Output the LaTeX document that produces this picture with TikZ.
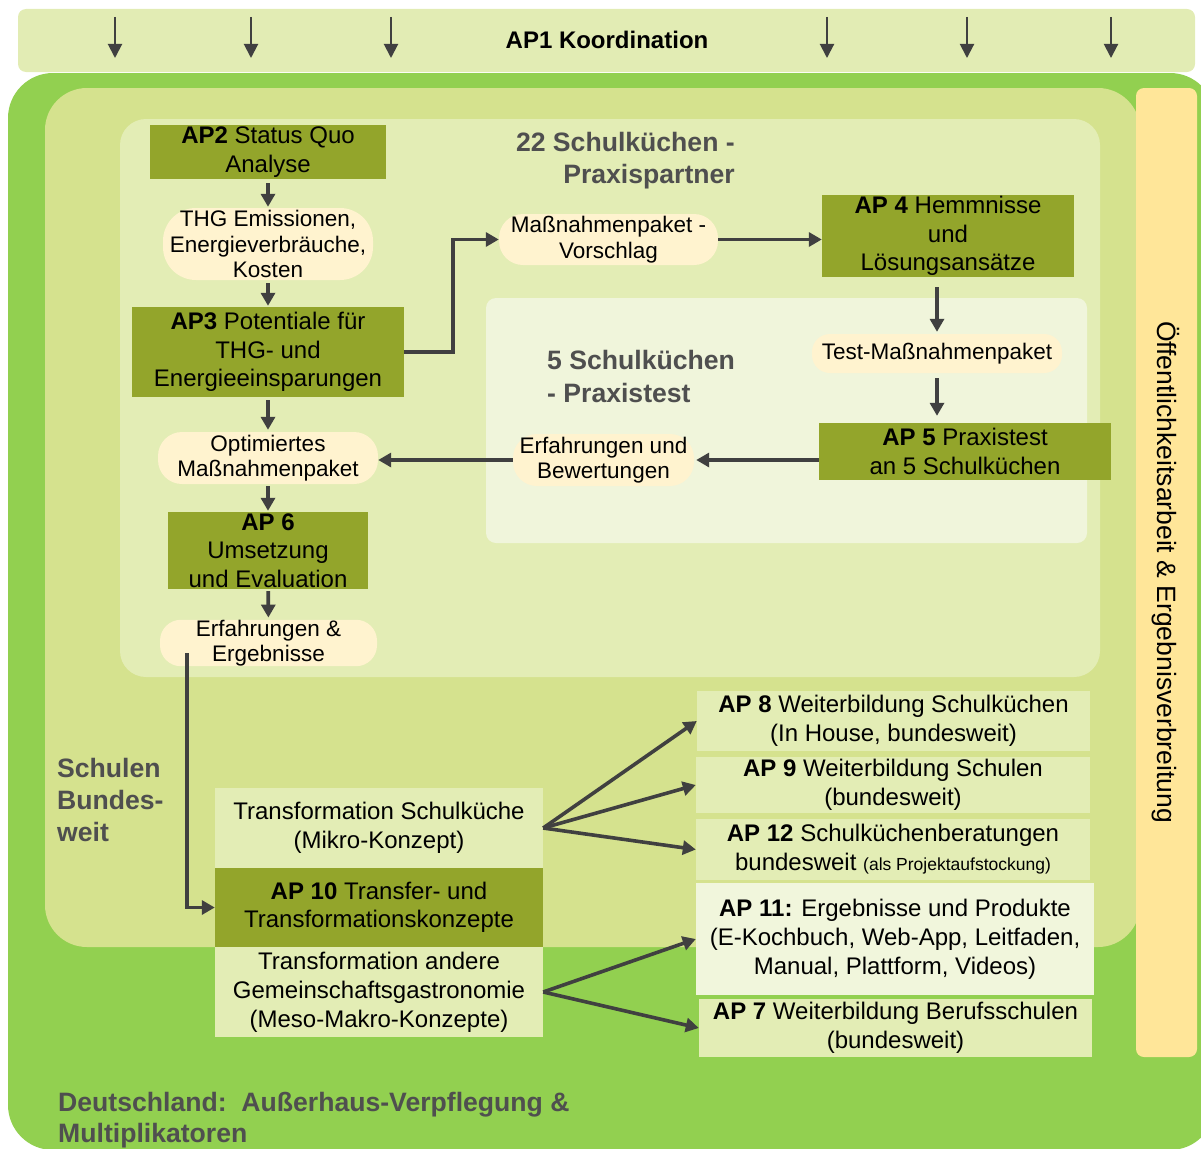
\documentclass[tikz,border=0pt]{standalone}
\usepackage{fontspec}
\setmainfont{Liberation Sans}
\usetikzlibrary{arrows.meta}
\definecolor{barc}{HTML}{E2ECB4}
\definecolor{greenc}{HTML}{92D050}
\definecolor{midc}{HTML}{D5E28E}
\definecolor{innerc}{HTML}{E3EDB5}
\definecolor{innermostc}{HTML}{F0F5DB}
\definecolor{apdark}{HTML}{93A52B}
\definecolor{pillc}{HTML}{FFF3CF}
\definecolor{yellowc}{HTML}{FFE699}
\definecolor{liteb}{HTML}{E3EDB5}
\definecolor{litest}{HTML}{F1F6DC}
\definecolor{headc}{HTML}{4F4F4F}
\definecolor{arrc}{HTML}{404040}
\begin{document}
\begin{tikzpicture}[x=1pt,y=-1pt,
  apbox/.style={fill=apdark, inner sep=0pt, align=center, text=black, font=\fontsize{24}{28.5}\selectfont},
  litebox/.style={fill=liteb, inner sep=0pt, align=center, text=black, font=\fontsize{24}{29}\selectfont},
  pill/.style={fill=pillc, inner sep=0pt, align=center, text=black, font=\fontsize{22.5}{25.5}\selectfont},
  heading/.style={text=headc, inner sep=0pt, font=\bfseries\fontsize{26.6}{32}\selectfont},
  arr/.style={draw=arrc, line width=3.6pt, -{Triangle[length=13pt,width=14pt]}},
  toparr/.style={draw=arrc, line width=2pt, -{Triangle[length=14pt,width=14pt]}}]
\useasboundingbox (0,0) rectangle (1201,1148);
% backgrounds
\fill[greenc, rounded corners=45pt] (8,73) rectangle (1215,1150);
\fill[midc, rounded corners=42pt] (45,88) rectangle (1140,947);
\fill[innerc, rounded corners=26pt] (120,119) rectangle (1100,677);
\fill[innermostc, rounded corners=10pt] (486,298) rectangle (1087,543);
\fill[yellowc, rounded corners=8pt] (1136,88) rectangle (1197,1057);
\node[rotate=-90, inner sep=0pt, font=\fontsize{26.5}{30}\selectfont] (oeff) at (1166,572) {Öffentlichkeitsarbeit \& Ergebnisverbreitung};
% top bar
\fill[barc, rounded corners=8pt] (18,9) rectangle (1195,72);
\node[inner sep=0pt, font=\bfseries\fontsize{24}{28}\selectfont] (ap1) at (607,40) {AP1 Koordination};
\foreach \x [count=\i] in {115,251,391,827,967,1111}{
  \coordinate (ts\i) at (\x,17);
  \coordinate (te\i) at (\x,58);
  \draw[toparr] (ts\i) -- (te\i);
}
% headings
\node[heading, align=right, anchor=east] (h22) at (735,161) {22 Schulküchen -\\Praxispartner};
\node[heading, align=left, anchor=west, font=\bfseries\fontsize{26.6}{33}\selectfont] (h5) at (547,376.5) {5 Schulküchen\\- Praxistest};
\node[heading, align=left, anchor=west] (hs) at (57,800) {Schulen\\Bundes-\\weit};
\node[heading, align=left, anchor=west, font=\bfseries\fontsize{26.6}{31}\selectfont] (hd) at (58,1120.5) {Deutschland:\ \ Außerhaus-Verpflegung \&\\Multiplikatoren};
% boxes
\node[apbox, minimum width=236pt, minimum height=54pt] (ap2) at (268,152) {\textbf{AP2} Status Quo\\Analyse};
\node[pill, minimum width=210pt, minimum height=72pt, rounded corners=33pt] (thg) at (268,244) {THG Emissionen,\\Energieverbräuche,\\Kosten};
\node[apbox, minimum width=272pt, minimum height=90pt] (ap3) at (268,352) {\textbf{AP3} Potentiale für\\THG- und\\Energieeinsparungen};
\node[pill, minimum width=219pt, minimum height=51pt, rounded corners=24pt] (mass) at (608.5,239.5) {Maßnahmenpaket -\\Vorschlag};
\node[apbox, minimum width=252pt, minimum height=82pt] (ap4) at (948,236) {\textbf{AP 4} Hemmnisse\\und\\Lösungsansätze};
\node[pill, minimum width=250pt, minimum height=39pt, rounded corners=18pt] (test) at (937,353.5) {Test-Maßnahmenpaket};
\node[apbox, minimum width=292pt, minimum height=57pt] (ap5) at (965,451.5) {\textbf{AP 5} Praxistest\\an 5 Schulküchen};
\node[pill, minimum width=181pt, minimum height=52pt, rounded corners=24pt] (erfbew) at (603.5,460) {Erfahrungen und\\Bewertungen};
\node[pill, minimum width=220pt, minimum height=52pt, rounded corners=24pt] (opt) at (268,458) {Optimiertes\\Maßnahmenpaket};
\node[apbox, minimum width=200pt, minimum height=77pt] (ap6) at (268,550.5) {\textbf{AP 6}\\Umsetzung\\und Evaluation};
\node[pill, minimum width=217pt, minimum height=46pt, rounded corners=21pt] (erferg) at (268.5,643) {Erfahrungen \&\\Ergebnisse};
\node[litebox, minimum width=328pt, minimum height=80pt] (trans1) at (379,828) {Transformation Schulküche\\(Mikro-Konzept)};
\node[apbox, minimum width=328pt, minimum height=79pt] (ap10) at (379,907.5) {\textbf{AP 10} Transfer- und\\Transformationskonzepte};
\node[litebox, minimum width=328pt, minimum height=90pt] (trans2) at (379,992) {Transformation andere\\Gemeinschaftsgastronomie\\(Meso-Makro-Konzepte)};
\node[litebox, minimum width=393pt, minimum height=60pt] (ap8) at (893.5,721) {\textbf{AP 8} Weiterbildung Schulküchen\\(In House, bundesweit)};
\node[litebox, minimum width=394pt, minimum height=56pt] (ap9) at (893,785) {\textbf{AP 9} Weiterbildung Schulen\\(bundesweit)};
\node[litebox, minimum width=394pt, minimum height=61pt] (ap12) at (893,849.5) {\textbf{AP 12} Schulküchenberatungen\\bundesweit {\fontsize{17.5}{20}\selectfont(als Projektaufstockung)}};
\node[litebox, fill=litest, minimum width=398pt, minimum height=112pt] (ap11) at (895,939) {\textbf{AP 11:} Ergebnisse und Produkte\\(E-Kochbuch, Web-App, Leitfaden,\\Manual, Plattform, Videos)};
\node[litebox, minimum width=393pt, minimum height=58pt] (ap7) at (895.5,1028) {\textbf{AP 7} Weiterbildung Berufsschulen\\(bundesweit)};
% connectors
\draw[arr, shorten <=4pt, shorten >=1pt] (ap2) -- (thg);
\draw[arr, shorten <=3pt, shorten >=1pt] (thg) -- (ap3);
\draw[arr] (ap3.east) -- ++(49,0) |- (mass.west);
\draw[arr] (mass.east) -- (mass.east -| ap4.west);
\draw[arr, shorten <=10pt, shorten >=2pt] (ap4.south -| test.north) -- (test.north);
\draw[arr, shorten <=5pt, shorten >=7pt] (test.south) -- (test.south |- ap5.north);
\draw[arr, shorten >=2pt] (ap5.west |- erfbew) -- (erfbew.east);
\draw[arr] (erfbew.west) -- (erfbew.west -| opt.east);
\draw[arr, shorten <=3pt, shorten >=2pt] (ap3) -- (opt);
\draw[arr, shorten <=2pt, shorten >=1pt] (opt) -- (ap6);
\draw[arr, shorten <=2pt, shorten >=2pt] (ap6) -- (erferg);
\draw[arr] ([xshift=-81.5pt,yshift=-10pt]erferg.center) |- (ap10.west);
\draw[arr] (trans1.east) -- (ap8.west);
\draw[arr] (trans1.east) -- (ap9.west);
\draw[arr] (trans1.east) -- (ap12.west);
\draw[arr] (trans2.east) -- (ap11.west);
\draw[arr] (trans2.east) -- (ap7.west);
\end{tikzpicture}
\end{document}
